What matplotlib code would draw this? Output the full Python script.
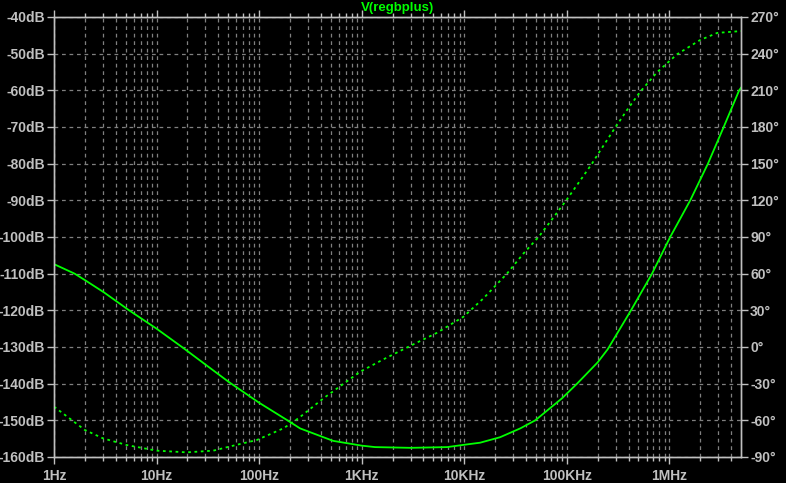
import numpy as np
import matplotlib
matplotlib.use("Agg")
import matplotlib.pyplot as plt
from matplotlib.ticker import FixedLocator, NullFormatter

# ---- data ----
mag_freq = [1, 1.59, 2.04, 3.07, 5.4, 10, 18.5, 30, 51, 100, 189, 251, 527,
            1000, 1350, 3000, 6820, 9780, 14300, 22400, 35200, 49300, 89800,
            126000, 200000, 251000, 423000, 678000, 1.02e6, 1.6e6, 2.38e6,
            3.39e6, 4.8e6, 5.0e6]
mag_db = [-107.4, -110.0, -111.9, -115.1, -120.0, -125.0, -130.4, -134.8,
          -139.6, -145.2, -150.0, -152.2, -155.6, -156.9, -157.3, -157.5,
          -157.3, -156.7, -156.1, -154.6, -152.2, -150.0, -144.0, -140.0,
          -134.2, -130.6, -120.0, -110.0, -100.0, -90.0, -80.0, -70.0,
          -60.0, -59.3]

ph_freq = [1, 2, 3, 5.1, 10, 19.7, 35.8, 56.1, 95, 173, 242, 424, 967, 1630,
           2860, 5420, 9850, 15400, 26100, 37900, 53100, 69000, 98800, 146000,
           176000, 204000, 286000, 387000, 521000, 759000, 1.19e6, 2.0e6,
           2.94e6, 5.0e6]
ph_deg = [-48.8, -67.9, -74.7, -80.2, -84.8, -86.2, -84.8, -80.7, -76.1,
          -66.5, -58.3, -42.0, -20.2, -10.1, 0.2, 11.6, 24.8, 39.8, 60.0,
          76.6, 90.0, 102.5, 120.0, 140.2, 150.0, 158.5, 177.5, 193.9, 208.9,
          224.8, 239.5, 251.2, 257.0, 258.5]

x_ticks = [1, 10, 100, 1e3, 1e4, 1e5, 1e6]
x_labels = ["1Hz", "10Hz", "100Hz", "1KHz", "10KHz", "100KHz", "1MHz"]
db_ticks = list(range(-160, -39, 10))
deg_ticks = list(range(-90, 271, 30))
title = "V(regbplus)"

# ---- styling ----
BG = "#000000"
FG = "#c0c0c0"
GRID = "#808080"
GREEN = "#00ff00"
FONT = "Liberation Sans"

W, H = 786, 483
fig = plt.figure(figsize=(W / 100, H / 100), dpi=100, facecolor=BG)
L, R, T, B = 54, 741, 17, 457
ax = fig.add_axes([L / W, (H - B) / H, (R - L) / W, (B - T) / H], facecolor=BG)
ax2 = ax.twinx()

ax.set_xscale("log")
ax.set_xlim(1, 5e6)
ax.set_ylim(-160, -40)
ax2.set_ylim(-90, 270)

ax.plot(mag_freq, mag_db, color=GREEN, lw=1.3, solid_joinstyle="round")
ax2.plot(ph_freq, ph_deg, color=GREEN, lw=1.3, linestyle=(0, (1.5, 2)))

minor = []
for d in range(0, 7):
    for m in range(2, 10):
        v = m * 10 ** d
        if v < 5e6:
            minor.append(v)

ax.xaxis.set_major_locator(FixedLocator(x_ticks))
ax.set_xticklabels(x_labels)
ax.xaxis.set_minor_locator(FixedLocator(minor))
ax.xaxis.set_minor_formatter(NullFormatter())
ax.set_yticks(db_ticks)
ax.set_yticklabels([f"{v}dB" for v in db_ticks])
ax2.set_yticks(deg_ticks)
ax2.set_yticklabels([f"{v}\u00b0" for v in deg_ticks])

for lab in ax.get_xticklabels() + ax.get_yticklabels() + ax2.get_yticklabels():
    lab.set_color(FG)
    lab.set_fontsize(10)
    lab.set_fontweight("bold")
    lab.set_fontfamily(FONT)

ax.tick_params(axis="both", which="major", colors=FG, length=5, width=1, direction="out", pad=1.5)
ax.tick_params(axis="x", which="major", top=True, pad=4)
ax.tick_params(axis="x", which="minor", colors=FG, length=3, width=1, direction="out", top=True)
ax2.tick_params(axis="y", which="major", colors=FG, length=5, width=1, direction="out", pad=1.5)

for a in (ax, ax2):
    for s in a.spines.values():
        s.set_color(FG)
        s.set_linewidth(1)

ax.grid(True, which="major", axis="both", color=GRID, linestyle=(0, (3, 3)), linewidth=0.9)
ax.grid(True, which="minor", axis="x", color=GRID, linestyle=(0, (3, 3)), linewidth=0.9)
ax.set_axisbelow(True)
ax2.set_zorder(ax.get_zorder() + 1)
ax2.patch.set_visible(False)

fig.text((L + R) / 2 / W, 1 - 8 / H, title, color=GREEN, fontsize=9.5,
         fontweight="bold", fontfamily=FONT, ha="center", va="center")

fig.savefig("out.png", dpi=100, facecolor=BG)
